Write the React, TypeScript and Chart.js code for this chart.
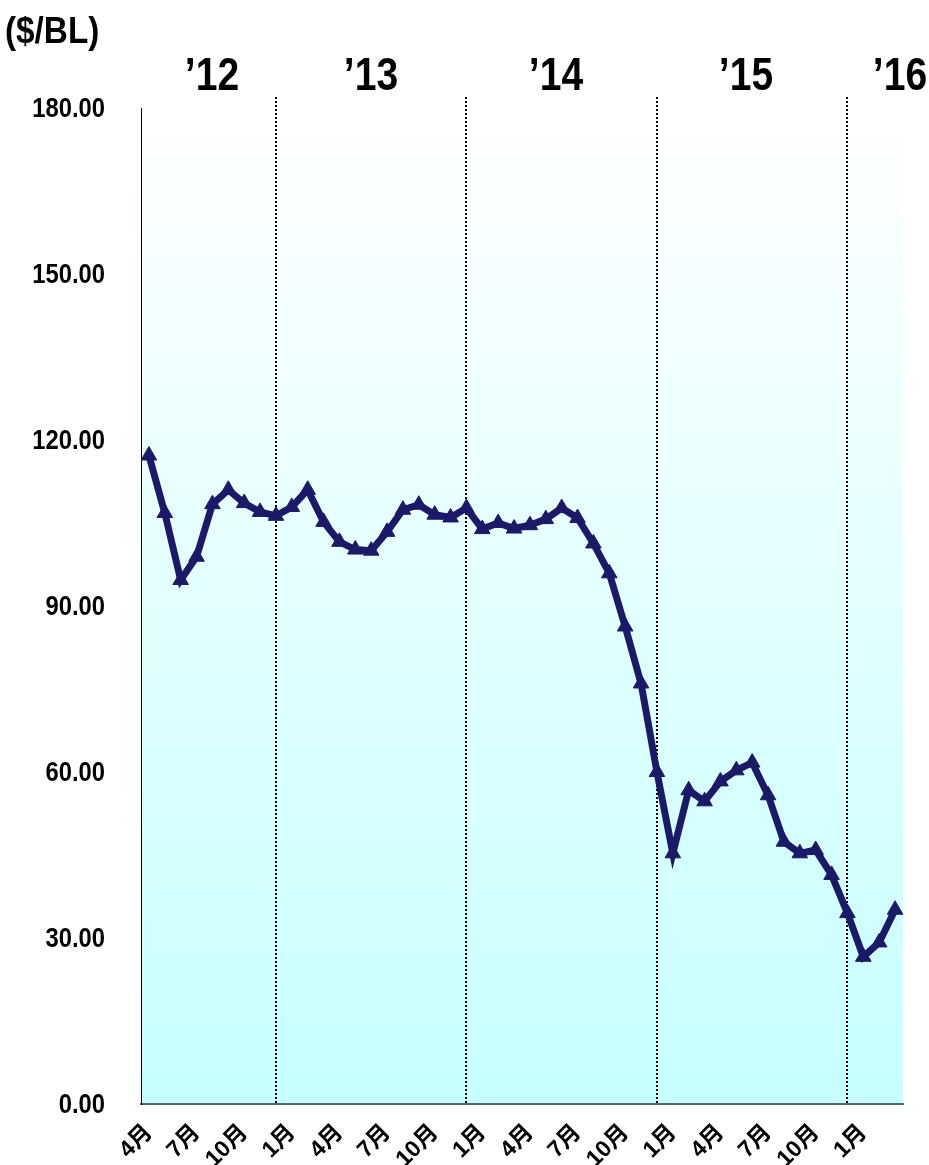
import React, { useEffect, useRef } from "react";
import { Chart, registerables } from "chart.js";

Chart.register(...registerables);

// Monthly categories, April 2012 – March 2016
const categories = [
  "2012-04", "2012-05", "2012-06", "2012-07", "2012-08", "2012-09", "2012-10", "2012-11", "2012-12",
  "2013-01", "2013-02", "2013-03", "2013-04", "2013-05", "2013-06", "2013-07", "2013-08", "2013-09", "2013-10", "2013-11", "2013-12",
  "2014-01", "2014-02", "2014-03", "2014-04", "2014-05", "2014-06", "2014-07", "2014-08", "2014-09", "2014-10", "2014-11", "2014-12",
  "2015-01", "2015-02", "2015-03", "2015-04", "2015-05", "2015-06", "2015-07", "2015-08", "2015-09", "2015-10", "2015-11", "2015-12",
  "2016-01", "2016-02", "2016-03",
];

const tickLabels = [
  "4月", "", "", "7月", "", "", "10月", "", "",
  "1月", "", "", "4月", "", "", "7月", "", "", "10月", "", "",
  "1月", "", "", "4月", "", "", "7月", "", "", "10月", "", "",
  "1月", "", "", "4月", "", "", "7月", "", "", "10月", "", "",
  "1月", "", "",
];

// Crude oil price ($/BL)
const prices = [
  117.2, 106.8, 94.7, 98.9, 108.4, 111.0, 108.6, 107.0, 106.3,
  107.9, 111.0, 105.2, 101.6, 100.2, 100.0, 103.4, 107.4, 108.3, 106.5, 106.0, 107.7,
  103.9, 105.0, 104.0, 104.6, 105.7, 107.7, 105.9, 101.3, 95.9, 86.3, 76.0, 60.0,
  45.3, 56.7, 54.7, 58.3, 60.3, 61.7, 55.8, 47.4, 45.3, 45.9, 41.4, 34.5,
  26.6, 29.2, 35.1,
];

const yTicks = [0, 30, 60, 90, 120, 150, 180];

const yearLabels = ["’12", "’13", "’14", "’15", "’16"];
// category index of the last month (December) of each year, where the dotted divider is drawn
const yearDividerIdx = [8, 20, 32, 44];

const NAVY = "#1b1a68";
const FONT = "'Liberation Sans', Arial, 'Noto Sans CJK JP', sans-serif";

function narrowText(ctx: CanvasRenderingContext2D, text: string, x: number, y: number, sx: number, rot = 0) {
  ctx.save();
  ctx.translate(x, y);
  if (rot) ctx.rotate(rot);
  ctx.scale(sx, 1);
  ctx.fillText(text, 0, 0);
  ctx.restore();
}

export default function App() {
  const ref = useRef<HTMLCanvasElement | null>(null);

  useEffect(() => {
    const canvas = ref.current;
    if (!canvas) return;

    const bgPlugin = {
      id: "bgGradient",
      beforeDraw(chart: any) {
        const { ctx, chartArea } = chart;
        const g = ctx.createLinearGradient(0, chartArea.top, 0, chartArea.bottom);
        g.addColorStop(0, "#ffffff");
        g.addColorStop(1, "#c6ffff");
        ctx.save();
        ctx.fillStyle = g;
        ctx.fillRect(chartArea.left, chartArea.top, chartArea.right - chartArea.left, chartArea.bottom - chartArea.top);
        ctx.restore();
      },
    };

    const overlayPlugin = {
      id: "overlay",
      beforeDatasetsDraw(chart: any) {
        const { ctx, chartArea, scales } = chart;
        ctx.save();
        ctx.strokeStyle = "#000000";
        ctx.lineWidth = 2;
        ctx.setLineDash([2, 2]);
        yearDividerIdx.forEach((i) => {
          const x = Math.round(scales.x.getPixelForValue(i));
          ctx.beginPath();
          ctx.moveTo(x, chartArea.top - 11);
          ctx.lineTo(x, chartArea.bottom);
          ctx.stroke();
        });
        ctx.restore();
      },
      afterDraw(chart: any) {
        const { ctx, scales, chartArea } = chart;
        ctx.save();
        ctx.fillStyle = "#000000";

        // unit label
        ctx.textBaseline = "middle";
        ctx.textAlign = "left";
        ctx.font = `bold 37px ${FONT}`;
        narrowText(ctx, "($/BL)", 5, 33, 0.9);

        // year labels
        ctx.textAlign = "center";
        ctx.font = `bold 46px ${FONT}`;
        const xs = [212, 371, 556, 746, 900];
        yearLabels.forEach((t, i) => narrowText(ctx, t, xs[i], 77, 0.85));

        // y tick labels
        ctx.textAlign = "right";
        ctx.font = `bold 28px ${FONT}`;
        yTicks.forEach((v) => {
          const y = scales.y.getPixelForValue(v);
          narrowText(ctx, v.toFixed(2), chartArea.left - 36, y + 1, 0.85);
        });

        // x tick labels (rotated)
        ctx.font = `bold 23px ${FONT}`;
        ctx.textAlign = "right";
        ctx.textBaseline = "middle";
        tickLabels.forEach((t, i) => {
          if (!t) return;
          const x = scales.x.getPixelForValue(i);
          narrowText(ctx, t, x, chartArea.bottom + 25, 1, -Math.PI / 4);
        });
        ctx.restore();
      },
    };

    const chart = new Chart(canvas, {
      type: "line",
      data: {
        labels: categories,
        datasets: [
          {
            data: prices,
            borderColor: NAVY,
            backgroundColor: NAVY,
            borderWidth: 7,
            pointStyle: "triangle",
            pointRadius: 9,
            pointBorderWidth: 1,
            pointBackgroundColor: NAVY,
            pointBorderColor: NAVY,
            tension: 0,
            fill: false,
          },
        ],
      },
      options: {
        animation: false,
        responsive: false,
        devicePixelRatio: 1,
        layout: { padding: { left: 0, top: 108, right: 26, bottom: 0 } },
        plugins: { legend: { display: false }, tooltip: { enabled: false } },
        scales: {
          x: {
            type: "category",
            offset: true,
            afterFit(scale: any) {
              scale.height = 61;
            },
            grid: { display: false, drawTicks: false },
            border: { display: true, color: "#4f6c6c", width: 2 },
            ticks: { display: false, autoSkip: false },
          },
          y: {
            min: 0,
            max: 180,
            afterFit(scale: any) {
              scale.width = 141;
            },
            afterBuildTicks(scale: any) {
              scale.ticks = yTicks.map((v) => ({ value: v }));
            },
            grid: { display: false, drawTicks: false },
            border: { display: true, color: "#000000", width: 1 },
            ticks: { display: false },
          },
        },
      },
      plugins: [bgPlugin, overlayPlugin],
    });

    return () => chart.destroy();
  }, []);

  return (
    <div style={{ position: "absolute", left: 0, top: 0, width: 929, height: 1165, background: "#ffffff" }}>
      <canvas ref={ref} width={929} height={1165} style={{ width: 929, height: 1165, display: "block" }} />
    </div>
  );
}
